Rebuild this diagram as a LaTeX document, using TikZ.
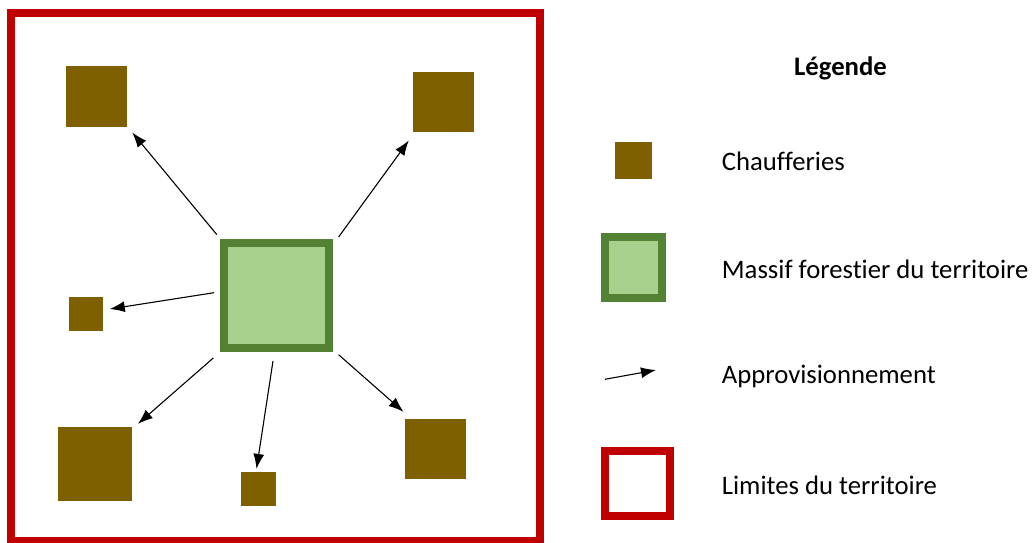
\documentclass[tikz,border=0pt]{standalone}
\usepackage{fontspec}
\setmainfont{Carlito}[Ligatures=NoCommon]
\usetikzlibrary{arrows.meta}
\definecolor{chauf}{HTML}{7F6000}
\definecolor{forfill}{HTML}{A9D18E}
\definecolor{fordraw}{HTML}{548235}
\definecolor{limred}{HTML}{C00000}
\tikzset{
  chaufbox/.style={rectangle, fill=chauf, inner sep=0pt, outer sep=0pt},
  forestbox/.style={rectangle, fill=forfill, draw=fordraw, line width=8pt, inner sep=0pt, outer sep=0pt},
  limitbox/.style={rectangle, draw=limred, line width=8pt, inner sep=0pt, outer sep=0pt},
  supply/.style={line width=1.1pt, -{Latex[length=15pt,width=11pt]}},
  legtext/.style={anchor=west, inner sep=0pt, font=\fontsize{26.7}{32}\selectfont},
}
\begin{document}
\begin{tikzpicture}[x=1pt,y=-1pt]
\useasboundingbox (0,0) rectangle (1033,543);
% territory limits
\draw[draw=limred, line width=8pt] (10.5,13.5) rectangle (540,540.5);
% forest
\node[forestbox, minimum width=105pt, minimum height=105pt] (m) at (276.6,295.4) {};
% boilers
\node[chaufbox, minimum width=61pt, minimum height=61pt] (c1) at (96.4,96.3) {};
\node[chaufbox, minimum width=61pt, minimum height=60.5pt] (c2) at (443.5,101.8) {};
\node[chaufbox, minimum width=34.5pt, minimum height=34.5pt] (c3) at (86,314.2) {};
\node[chaufbox, minimum width=74pt, minimum height=74pt] (c4) at (94.5,464) {};
\node[chaufbox, minimum width=35pt, minimum height=34.5pt] (c5) at (258.5,489) {};
\node[chaufbox, minimum width=61pt, minimum height=60.5pt] (c6) at (435.5,448.8) {};
% arrow ends
\coordinate (s1) at (216.8,234.6); \coordinate (e1) at (132.3,132.5);
\coordinate (s2) at (338.6,237);   \coordinate (e2) at (408.8,140.5);
\coordinate (s3) at (214,292.7);   \coordinate (e3) at (109.8,309);
\coordinate (s4) at (213.3,358);   \coordinate (e4) at (137.9,423.9);
\coordinate (s5) at (273,361);     \coordinate (e5) at (256.5,468.9);
\coordinate (s6) at (338.6,354.7); \coordinate (e6) at (403.5,411.8);
\draw[supply] (s1) -- (e1);
\draw[supply] (s2) -- (e2);
\draw[supply] (s3) -- (e3);
\draw[supply] (s4) -- (e4);
\draw[supply] (s5) -- (e5);
\draw[supply] (s6) -- (e6);
% legend
\node[font=\fontsize{26.7}{32}\selectfont\bfseries] (title) at (840.5,68) {Légende};
\node[chaufbox, minimum width=36.7pt, minimum height=37.6pt] (l1) at (633.6,160.5) {};
\node[forestbox, minimum width=57.3pt, minimum height=60.4pt] (l2) at (633.6,267.5) {};
\coordinate (la) at (605,379.3); \coordinate (lb) at (656,370);
\draw[supply] (la) -- (lb);
\node[limitbox, minimum width=64.7pt, minimum height=64.7pt] (l4) at (637.3,483.6) {};
\node[legtext] (t1) at (721.7,161.7) {Chaufferies};
\node[legtext] (t2) at (721.7,269) {Massif forestier du territoire};
\node[legtext] (t3) at (721.7,376.7) {Approvisionnement};
\node[legtext] (t4) at (721.7,485) {Limites du territoire};
\end{tikzpicture}
\end{document}
